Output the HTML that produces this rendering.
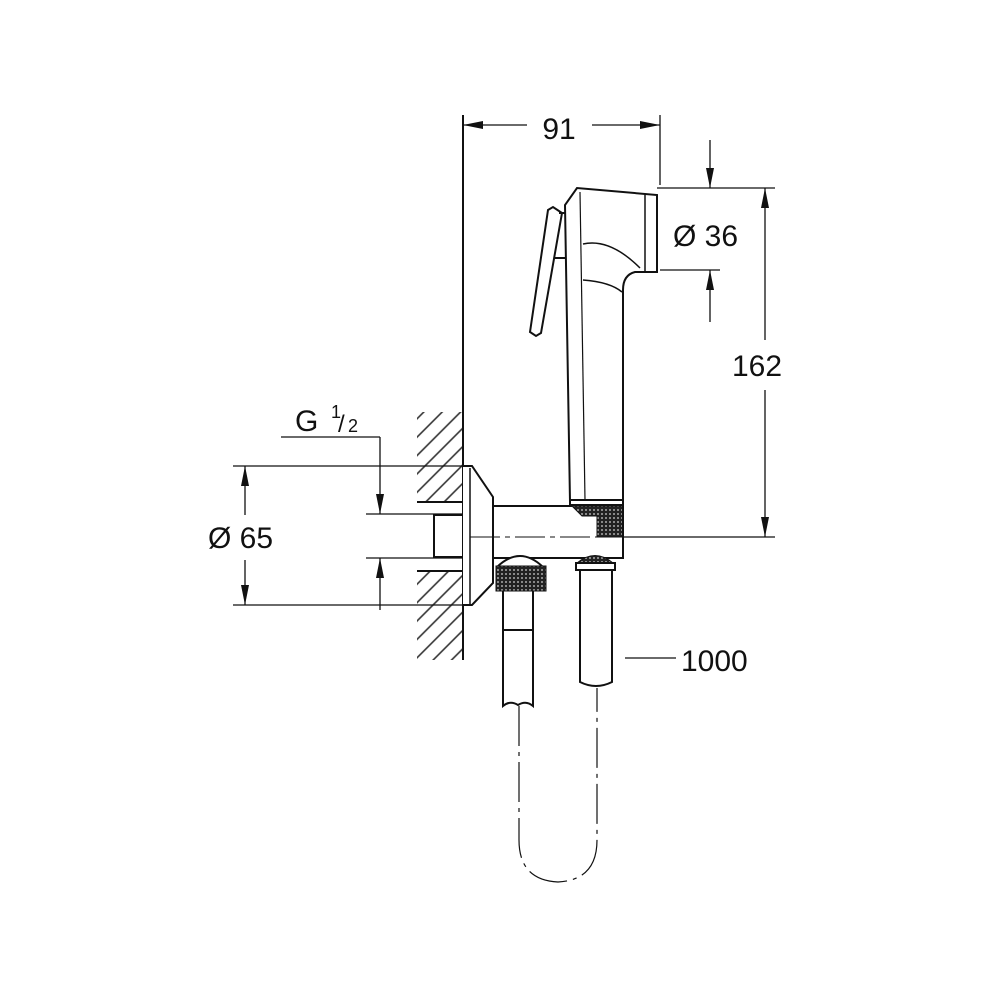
<!DOCTYPE html>
<html><head><style>body{margin:0;background:#fff}svg{display:block}text{font-family:"Liberation Sans",sans-serif;fill:#111}</style></head>
<body>
<svg width="1000" height="1000" viewBox="0 0 1000 1000" xmlns="http://www.w3.org/2000/svg">
<defs>
<pattern id="hatch" width="13" height="13" patternUnits="userSpaceOnUse" patternTransform="rotate(-45)">
<line x1="0" y1="6" x2="13" y2="6" stroke="#333" stroke-width="1.6"/>
</pattern>
<pattern id="knurl" width="4" height="4" patternUnits="userSpaceOnUse">
<rect width="4" height="4" fill="#222"/><circle cx="2" cy="2" r="1" fill="#aaa"/>
</pattern>
</defs>
<g stroke="#111" fill="none" stroke-width="2">
<rect x="417" y="412" width="46" height="90" fill="url(#hatch)" stroke="none"/>
<rect x="417" y="571" width="46" height="89" fill="url(#hatch)" stroke="none"/>
<line x1="417" y1="502" x2="463" y2="502"/>
<line x1="417" y1="571" x2="463" y2="571"/>
<line x1="463" y1="115" x2="463" y2="660"/>
<path d="M463 515 H434 V557 H463"/>
<path d="M463 466 H472 L493 497 V583 L472 605 H463" fill="#fff"/>
<line x1="470" y1="468" x2="470" y2="604" stroke-width="1.5"/>
<path d="M493 506 H572 M493 558 H623 V538"/>
<path d="M570 502 L565 205 L577 188 L657 195 L657 272 L635 272 Q623 275 623 290 L623 502 Z" fill="#fff"/>
<line x1="580" y1="192" x2="585" y2="500" stroke-width="1.2"/>
<line x1="645" y1="194" x2="645" y2="272" stroke-width="1.5"/>
<path d="M583 244 Q610 238 640 268 M583 280 Q610 282 622 292" stroke-width="1.5"/>
<rect x="570" y="500" width="53" height="5" fill="#fff"/>
<path d="M572 506 L582 516 H597 V537 H623 V506 Z" fill="url(#knurl)" stroke-width="1"/>
<line x1="623" y1="505" x2="623" y2="538"/>
<path d="M562 213 L553 207 L548 210 L530 332 L536 336 L541 333 Z" fill="#fff"/>
<line x1="559" y1="213" x2="565" y2="213"/><line x1="555" y1="258" x2="565" y2="258"/>
<line x1="470" y1="537" x2="620" y2="537" stroke-width="1" stroke-dasharray="30 5 5 5"/>
<path d="M497 567 Q520 545 543 567" fill="#fff"/>
<rect x="496" y="566" width="50" height="25" fill="url(#knurl)" stroke-width="1"/>
<path d="M503 591 V706 Q510 700 518 705 Q526 700 533 706 V591 M503 630 H533"/>
<path d="M577 563 Q595 548 613 563" fill="url(#knurl)" stroke-width="1"/>
<rect x="576" y="563" width="39" height="7" fill="#fff"/>
<path d="M580 570 V682 Q596 690 612 682 V570"/>
<path d="M519 706 V840 Q519 880 558 882 Q597 880 597 840 V688" stroke-width="1.2" stroke-dasharray="40 6 4 6"/>
<g stroke-width="1.3">
<line x1="463" y1="125" x2="527" y2="125"/><line x1="592" y1="125" x2="660" y2="125"/>
<line x1="660" y1="115" x2="660" y2="185"/>
<line x1="657" y1="188" x2="775" y2="188"/>
<line x1="660" y1="270" x2="720" y2="270"/>
<line x1="710" y1="140" x2="710" y2="188"/><line x1="710" y1="270" x2="710" y2="322"/>
<line x1="765" y1="188" x2="765" y2="340"/><line x1="765" y1="390" x2="765" y2="537"/>
<line x1="623" y1="537" x2="775" y2="537"/>
<line x1="233" y1="466" x2="463" y2="466"/><line x1="233" y1="605" x2="463" y2="605"/>
<line x1="245" y1="466" x2="245" y2="515"/><line x1="245" y1="560" x2="245" y2="605"/>
<line x1="281" y1="437" x2="380" y2="437"/><line x1="380" y1="437" x2="380" y2="514"/>
<line x1="380" y1="558" x2="380" y2="610"/>
<line x1="366" y1="514" x2="463" y2="514"/><line x1="366" y1="558" x2="463" y2="558"/>
<line x1="625" y1="658" x2="676" y2="658"/>
</g>
</g>
<g fill="#111">
<path d="M463 125 l20 -4 v8z"/><path d="M660 125 l-20 -4 v8z"/>
<path d="M710 188 l-4 -20 h8z"/><path d="M710 270 l-4 20 h8z"/>
<path d="M765 188 l-4 20 h8z"/><path d="M765 537 l-4 -20 h8z"/>
<path d="M245 466 l-4 20 h8z"/><path d="M245 605 l-4 -20 h8z"/>
<path d="M380 514 l-4 -20 h8z"/><path d="M380 558 l-4 20 h8z"/>
</g>
<text x="559" y="139" font-size="30" text-anchor="middle">91</text>
<text x="673" y="246" font-size="30">Ø 36</text>
<text x="757" y="376" font-size="30" text-anchor="middle">162</text>
<text x="208" y="548" font-size="30">Ø 65</text>
<text x="295" y="431" font-size="30">G</text>
<text x="331" y="418" font-size="18">1</text>
<text x="338" y="432" font-size="24">/</text>
<text x="348" y="432" font-size="18">2</text>
<text x="681" y="671" font-size="30">1000</text>
</svg>
</body></html>
